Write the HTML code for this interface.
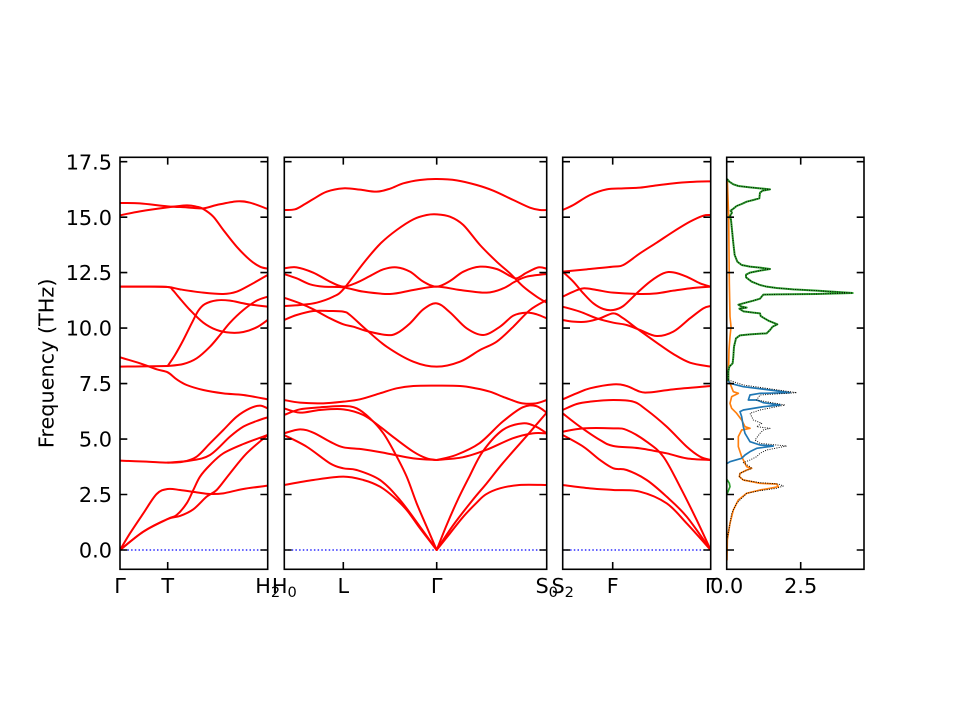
<!DOCTYPE html>
<html><head><meta charset="utf-8">
<style>
html,body{margin:0;padding:0;background:#fff;}
svg{display:block;}
text{font-family:"DejaVu Sans","Liberation Sans",sans-serif;font-size:20.8px;fill:#000;}
</style></head>
<body>
<svg width="960" height="720" viewBox="0 0 960 720" xmlns="http://www.w3.org/2000/svg">
<defs>
<clipPath id="c1"><rect x="120" y="157.3" width="147.7" height="412"/></clipPath>
<clipPath id="c2"><rect x="284.3" y="157.3" width="262.4" height="412"/></clipPath>
<clipPath id="c3"><rect x="562.7" y="157.3" width="148" height="412"/></clipPath>
<clipPath id="c4"><rect x="726.7" y="157.3" width="137.3" height="412"/></clipPath>
</defs>
<rect width="960" height="720" fill="#fff"/>

<!-- zero lines -->
<g stroke="#0000ff" stroke-width="1.3" stroke-dasharray="1.5,2.2" fill="none">
<path d="M120 550H267.7M284.3 550H546.7M562.7 550H710.7"/>
</g>

<!-- Panel 1 -->
<g clip-path="url(#c1)">
<g class="band" transform="translate(30,140) scale(0.33333)" fill="none" stroke="#ff0000" stroke-width="6" stroke-linejoin="round" stroke-linecap="round">
<polyline points="270,189 330,190 413,199 470,202 520,205 560,195 620,184 660,188 713,207"/>
<polyline points="270,226 330,214 413,202 470,196 500,200 520,207 550,230 580,270 620,320 660,360 690,380 713,386"/>
<polyline points="270,440 340,440 413,441 450,448 520,458 580,462 620,455 660,435 713,405"/>
<polyline points="270,440 340,440 413,441 428,450 445,470 480,510 520,548 560,570 600,578 640,576 680,562 713,540"/>
<polyline points="270,680 340,679 413,678"/>
<polyline points="413,678 435,645 460,600 485,550 505,512 525,492 560,481 600,482 650,492 713,500"/>
<polyline points="413,678 460,672 500,655 540,620 570,585 600,548 640,510 680,482 713,470"/>
<polyline points="270,652 330,670 380,688 413,697 440,718 470,735 520,750 580,760 640,765 713,778"/>
<polyline points="270,962 350,965 413,968 460,965 500,950 540,910 580,870 620,830 660,805 690,797 713,805"/>
<polyline points="413,968 480,962 540,945 600,890 640,860 680,843 713,832"/>
<polyline points="270,1230 300,1180 340,1120 380,1062 413,1047 450,1050 500,1057 540,1062 580,1060 640,1047 713,1037"/>
<polyline points="270,1230 340,1175 413,1137 440,1125 470,1090 490,1050 510,1010 540,975 580,940 640,912 713,885"/>
<polyline points="270,1230 340,1175 413,1137 450,1128 490,1108 530,1070 560,1050 600,1000 650,940 713,885"/>
</g></g>

<!-- Panel 2 -->
<g clip-path="url(#c2)">
<g class="band" transform="translate(280,150) scale(0.33333)" fill="none" stroke="#ff0000" stroke-width="6" stroke-linejoin="round" stroke-linecap="round">
<polyline points="12,180 45,178 75,162 100,147 140,125 190,115 240,119 290,125 330,116 370,100 420,90 470,87 530,91 590,105 640,122 700,150 750,173 780,180 800,180"/>
<polyline points="12,468 60,465 110,458 160,440 190,418 250,340 300,282 350,240 400,208 440,195 470,193 510,200 550,225 600,285 650,335 690,370 730,410 770,440 800,458"/>
<polyline points="12,355 50,352 100,368 150,395 190,410 230,398 270,378 310,358 350,352 390,365 430,395 470,410 510,393 550,365 600,350 650,357 690,378 710,385 740,368 775,352 800,356"/>
<polyline points="12,372 50,385 90,403 130,410 190,412 250,425 330,432 400,420 470,410 540,420 620,428 670,415 705,395 740,380 800,372"/>
<polyline points="12,443 60,460 100,478 150,505 190,523 220,530 260,543 320,555 350,550 390,520 430,478 470,460 510,487 560,535 610,555 660,530 700,497 740,488 770,493 800,505"/>
<polyline points="12,510 50,495 100,483 150,483 190,485 210,495 260,540 320,590 400,635 470,650 540,635 600,600 650,575 700,530 750,480 800,450"/>
<polyline points="12,750 60,758 130,760 190,755 240,748 300,730 350,715 400,708 470,707 540,708 588,715 630,725 668,740 700,752 728,760 768,760 800,750"/>
<polyline points="12,795 60,778 120,772 190,768 230,775 270,805 310,850 345,910 380,980 410,1060 440,1130 470,1200"/>
<polyline points="12,775 60,788 120,780 190,778 250,795 300,830 345,865 400,905 440,925 470,930"/>
<polyline points="12,850 60,838 100,848 150,875 190,892 250,898 320,910 400,925 470,930"/>
<polyline points="12,855 80,890 150,940 190,955 230,960 300,990 360,1050 420,1130 470,1200"/>
<polyline points="12,1005 100,990 190,980 250,990 300,1010 340,1040 380,1080 420,1135 470,1200"/>
<polyline points="470,930 528,915 598,880 668,815 728,772 768,768 800,788"/>
<polyline points="470,930 548,922 618,900 698,865 758,850 800,850"/>
<polyline points="470,1200 500,1125 533,1050 568,980 608,905 668,840 728,820 768,830 800,850"/>
<polyline points="470,1200 520,1125 578,1050 620,1000 668,940 738,860 800,788"/>
<polyline points="470,1200 510,1150 550,1100 590,1058 618,1033 660,1015 718,1005 800,1005"/>
</g></g>

<!-- Panel 3 -->
<g clip-path="url(#c3)">
<g class="band" transform="translate(540,150) scale(0.33333)" fill="none" stroke="#ff0000" stroke-width="6" stroke-linejoin="round" stroke-linecap="round">
<polyline points="68,180 100,165 150,135 200,118 250,115 300,113 350,106 400,100 450,96 512,94"/>
<polyline points="68,365 140,358 220,350 250,345 300,310 350,278 400,245 450,215 490,197 512,195"/>
<polyline points="68,365 100,395 130,430 160,460 190,477 220,480 250,468 290,430 330,395 370,370 400,367 440,380 480,400 512,410"/>
<polyline points="68,440 100,425 130,415 170,420 220,428 300,432 350,430 400,422 450,415 512,410"/>
<polyline points="68,470 120,485 170,505 220,518 260,525 300,540 350,558 400,545 450,505 490,475 512,468"/>
<polyline points="68,510 100,515 140,515 180,505 220,490 250,505 290,535 350,578 400,612 450,638 512,650"/>
<polyline points="68,748 110,730 150,715 220,703 260,708 300,725 330,727 400,718 512,708"/>
<polyline points="68,780 110,762 150,755 220,750 280,755 320,780 380,830 440,890 480,920 512,930"/>
<polyline points="68,790 120,830 180,870 220,888 300,895 380,910 440,925 512,930"/>
<polyline points="68,845 130,835 220,835 260,840 320,875 370,920 420,1010 470,1110 512,1200"/>
<polyline points="68,855 130,890 180,930 220,955 260,960 320,990 380,1040 440,1100 512,1200"/>
<polyline points="68,1005 150,1015 220,1020 300,1025 380,1060 440,1120 512,1200"/>
</g></g>

<!-- Panel 4 DOS -->
<g clip-path="url(#c4)">
<g transform="translate(710,150) scale(0.33333)" fill="none" stroke-linejoin="round" stroke-linecap="round">
<polyline stroke="#ff7f0e" stroke-width="5" points="52,90 56,200 58,400 60,500 63,530 60,560 57,600 55,690 60,700 70,725 85,730 75,735 65,740 60,760 65,775 80,790 95,810 105,830 120,835 95,840 85,860 85,890 95,920 100,930 110,950 125,955 110,960 90,970 88,980 100,990 150,1000 200,1002 205,1010 180,1015 150,1020 110,1030 85,1050 70,1080 60,1120 55,1150 52,1170 51,1230"/>
<polyline stroke="#1f77b4" stroke-width="5" points="52,688 60,700 100,710 180,720 240,728 150,730 120,735 115,750 140,750 160,758 210,765 160,770 100,780 90,785 95,800 100,830 105,850 120,875 150,885 190,888 140,895 120,905 105,915 95,925 60,935 52,940"/>
<polyline stroke="#2ca02c" stroke-width="6" points="52,88 58,95 70,103 85,108 120,112 150,115 180,118 158,122 150,128 148,145 130,150 110,155 95,162 80,168 70,176 62,182 66,188 60,198 63,210 66,240 70,280 74,315 82,335 95,345 120,350 150,353 180,357 150,362 120,368 108,374 108,382 125,395 150,405 170,410 200,414 250,418 320,422 428,429 320,432 200,433 160,434 155,440 150,446 130,452 100,460 85,464 95,470 110,473 88,476 100,484 130,488 150,490 152,498 160,503 175,512 190,518 202,523 188,530 180,540 170,550 120,553 90,556 78,565 72,590 70,620 68,640 58,650 55,665 55,690"/>
<polyline stroke="#2ca02c" stroke-width="5" points="52,990 58,1000 60,1010 56,1020 52,1030"/>
<g stroke="#000" stroke-width="2.8" stroke-dasharray="3,4" stroke-linecap="butt">
<polyline points="52,88 58,95 70,103 85,108 120,112 150,115 180,118 158,122 150,128 148,145 130,150 110,155 95,162 80,168 70,176 62,182 66,188 60,198 63,210 66,240 70,280 74,315 82,335 95,345 120,350 150,353 180,357 150,362 120,368 108,374 108,382 125,395 150,405 170,410 200,414 250,418 320,422 428,429 320,432 200,433 160,434 155,440 150,446 130,452 100,460 85,464 95,470 110,473 88,476 100,484 130,488 150,490 152,498 160,503 175,512 190,518 202,523 188,530 180,540 170,550 120,553 90,556 78,565 72,590 70,620 68,640 58,650 55,665 55,690"/>
<polyline points="55,690 100,705 260,728 150,735 140,750 225,765 150,780 120,790 130,810 155,820 140,830 180,835 160,840 150,850 135,870 150,880 230,888 170,900 150,910 140,920 120,930 100,938 120,950 125,955 90,970 88,980 100,990 150,998 205,1002 220,1008 200,1015 150,1022 110,1030 80,1060 65,1090 55,1150 50,1170"/>
</g>
</g></g>

<!-- Spines -->
<g fill="none" stroke="#000" stroke-width="1.6">
<rect x="120" y="157.3" width="147.7" height="412"/>
<rect x="284.3" y="157.3" width="262.4" height="412"/>
<rect x="562.7" y="157.3" width="148" height="412"/>
<rect x="726.7" y="157.3" width="137.3" height="412"/>
</g>

<!-- Ticks -->
<g fill="none" stroke="#000" stroke-width="1.6">
<path d="M120 550h7.3M120 494.5h7.3M120 439.05h7.3M120 383.6h7.3M120 328.1h7.3M120 272.6h7.3M120 217.15h7.3M120 161.7h7.3
M267.7 550h-7.3M267.7 494.5h-7.3M267.7 439.05h-7.3M267.7 383.6h-7.3M267.7 328.1h-7.3M267.7 272.6h-7.3M267.7 217.15h-7.3M267.7 161.7h-7.3
M167.7 569.3v-7.3M167.7 157.3v7.3"/>
<path d="M284.3 550h7.3M284.3 494.5h7.3M284.3 439.05h7.3M284.3 383.6h7.3M284.3 328.1h7.3M284.3 272.6h7.3M284.3 217.15h7.3M284.3 161.7h7.3
M546.7 550h-7.3M546.7 494.5h-7.3M546.7 439.05h-7.3M546.7 383.6h-7.3M546.7 328.1h-7.3M546.7 272.6h-7.3M546.7 217.15h-7.3M546.7 161.7h-7.3
M343.3 569.3v-7.3M343.3 157.3v7.3M436.7 569.3v-7.3M436.7 157.3v7.3"/>
<path d="M562.7 550h7.3M562.7 494.5h7.3M562.7 439.05h7.3M562.7 383.6h7.3M562.7 328.1h7.3M562.7 272.6h7.3M562.7 217.15h7.3M562.7 161.7h7.3
M710.7 550h-7.3M710.7 494.5h-7.3M710.7 439.05h-7.3M710.7 383.6h-7.3M710.7 328.1h-7.3M710.7 272.6h-7.3M710.7 217.15h-7.3M710.7 161.7h-7.3
M612.7 569.3v-7.3M612.7 157.3v7.3"/>
<path d="M726.7 550h7.3M726.7 494.5h7.3M726.7 439.05h7.3M726.7 383.6h7.3M726.7 328.1h7.3M726.7 272.6h7.3M726.7 217.15h7.3M726.7 161.7h7.3
M864 550h-7.3M864 494.5h-7.3M864 439.05h-7.3M864 383.6h-7.3M864 328.1h-7.3M864 272.6h-7.3M864 217.15h-7.3M864 161.7h-7.3
M800.7 569.3v-7.3M800.7 157.3v7.3"/>
</g>

<!-- Y tick labels -->
<g text-anchor="end">
<text x="112" y="557.6">0.0</text>
<text x="112" y="502.1">2.5</text>
<text x="112" y="446.65">5.0</text>
<text x="112" y="391.2">7.5</text>
<text x="112" y="335.7">10.0</text>
<text x="112" y="280.2">12.5</text>
<text x="112" y="224.75">15.0</text>
<text x="112" y="169.3">17.5</text>
</g>

<text transform="translate(53.5,363.3) rotate(-90)" text-anchor="middle">Frequency (THz)</text>

<!-- X tick labels -->
<g text-anchor="middle">
<text x="120" y="593">Γ</text>
<text x="167.7" y="593">T</text>
<text x="267.7" y="593">H<tspan font-size="14.6" dy="4">2</tspan></text>
<text x="284.3" y="593">H<tspan font-size="14.6" dy="4">0</tspan></text>
<text x="343.3" y="593">L</text>
<text x="436.7" y="593">Γ</text>
<text x="546.7" y="593">S<tspan font-size="14.6" dy="4">0</tspan></text>
<text x="562.7" y="593">S<tspan font-size="14.6" dy="4">2</tspan></text>
<text x="612.7" y="593">F</text>
<text x="710.7" y="593">Γ</text>
<text x="726.7" y="593">0.0</text>
<text x="800.7" y="593">2.5</text>
</g>
</svg>
<script>
(function(){
  var NS="http://www.w3.org/2000/svg";
  var pls=document.querySelectorAll("g.band polyline");
  for(var i=0;i<pls.length;i++){
    var pl=pls[i];
    var raw=pl.getAttribute("points").trim().split(/\s+/);
    var p=[];
    for(var j=0;j<raw.length;j++){var q=raw[j].split(",");p.push([+q[0],+q[1]]);}
    if(p.length<3)continue;
    var d="M"+p[0][0]+" "+p[0][1];
    for(var k=0;k<p.length-1;k++){
      var p0=p[k>0?k-1:k],p1=p[k],p2=p[k+1],p3=p[k+2<p.length?k+2:k+1];
      var c1x=p1[0]+(p2[0]-p0[0])/6,c1y=p1[1]+(p2[1]-p0[1])/6;
      var c2x=p2[0]-(p3[0]-p1[0])/6,c2y=p2[1]-(p3[1]-p1[1])/6;
      d+="C"+c1x.toFixed(1)+" "+c1y.toFixed(1)+" "+c2x.toFixed(1)+" "+c2y.toFixed(1)+" "+p2[0]+" "+p2[1];
    }
    var path=document.createElementNS(NS,"path");
    path.setAttribute("d",d);
    pl.parentNode.replaceChild(path,pl);
  }
})();
</script>
</body></html>
